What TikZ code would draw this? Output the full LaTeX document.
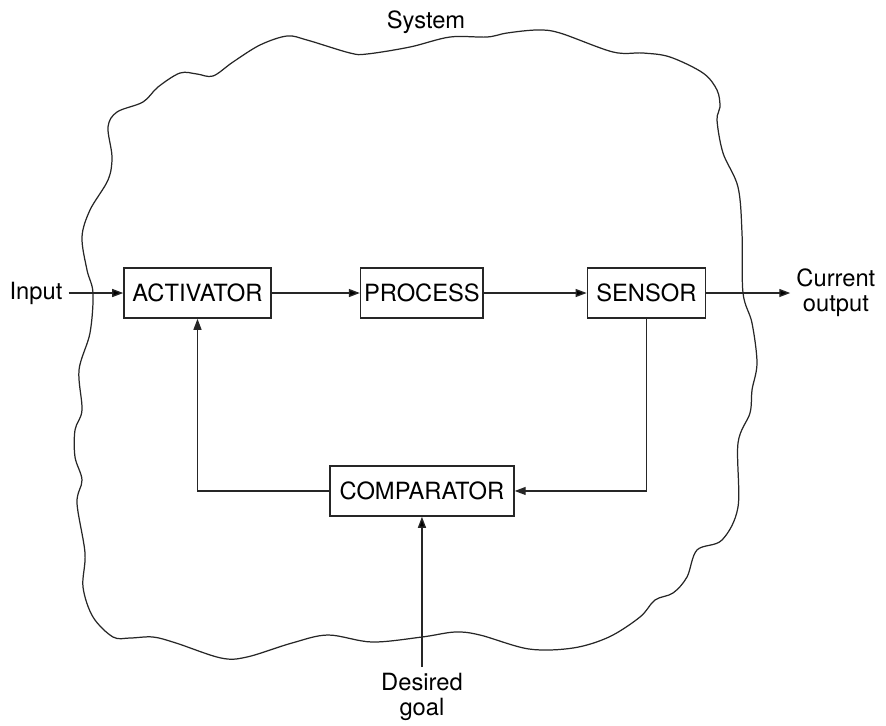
\documentclass[tikz,border=0pt]{standalone}
\usepackage{fontspec}
\setmainfont{TeX Gyre Heros}
\usetikzlibrary{arrows.meta}

\tikzset{
  block/.style={shape=rectangle, draw=black!85, line width=0.9pt, minimum height=1cm, inner xsep=2pt},
  flow/.style={->, draw=black!85, line width=0.75pt},
}

\begin{document}
\begin{tikzpicture}[x=0.02cm,y=-0.02cm,>={Triangle[length=2.2mm,width=1.6mm]},auto,node distance=4.49cm,font=\fontsize{13.5}{14}\selectfont]
\useasboundingbox (0,0) rectangle (886,725);
% system boundary
\draw[black!85, line width=0.7pt] plot[smooth cycle, tension=0.55] coordinates {
  (108,127) (117,112) (143,102) (158,87) (180,73) (197,74) (213,76) (233,62)
  (260,45) (287,36) (307,40) (350,53) (367,54) (410,47) (450,37) (487,37)
  (507,33) (537,30) (560,33) (613,52) (643,53) (670,57) (703,73) (717,90)
  (720,107) (717,120) (723,153) (738,187) (742,233) (743,293) (752,323) (757,363)
  (752,390) (750,413) (738,443) (738,507) (722,540) (697,550) (687,577) (673,593)
  (655,600) (640,617) (609,637) (573,648) (529,649) (480,635) (455,632) (422,637)
  (372,642) (328,635) (292,643) (247,657) (221,658) (176,643) (153,637) (130,638)
  (113,637) (93,617) (83,587) (85,553) (77,503) (82,480) (75,457) (75,430)
  (82,410) (79,370) (90,333) (93,293) (87,270) (82,237) (90,210) (108,180)
  (112,157)};
\node (system) at (426,22) {System};

\node (act) [block, minimum width=2.94cm] at (197.5,293) {ACTIVATOR};
\node (proc) [block, minimum width=2.4cm] [right of=act] {PROCESS};
\node (sensor) [block, minimum width=2.36cm] [right of=proc] {SENSOR};
\node (comp) [block, minimum width=3.68cm] [below of=proc, node distance=3.96cm] {COMPARATOR};
\node (input) [left of=act, node distance=3.23cm] {Input};
\node (output) [right of=sensor, node distance=3.79cm, align=center] {Current\\output};
\node (goal) [below of=comp, node distance=4.12cm, align=center] {Desired\\goal};

\path[flow] (input) edge (act)
            (act) edge (proc)
            (proc) edge (sensor)
            (sensor) edge (output)
            (goal) edge (comp);
\draw[flow] (sensor.south) |- (comp.east);
\draw[flow] (comp.west) -| (act.south);
\end{tikzpicture}
\end{document}
